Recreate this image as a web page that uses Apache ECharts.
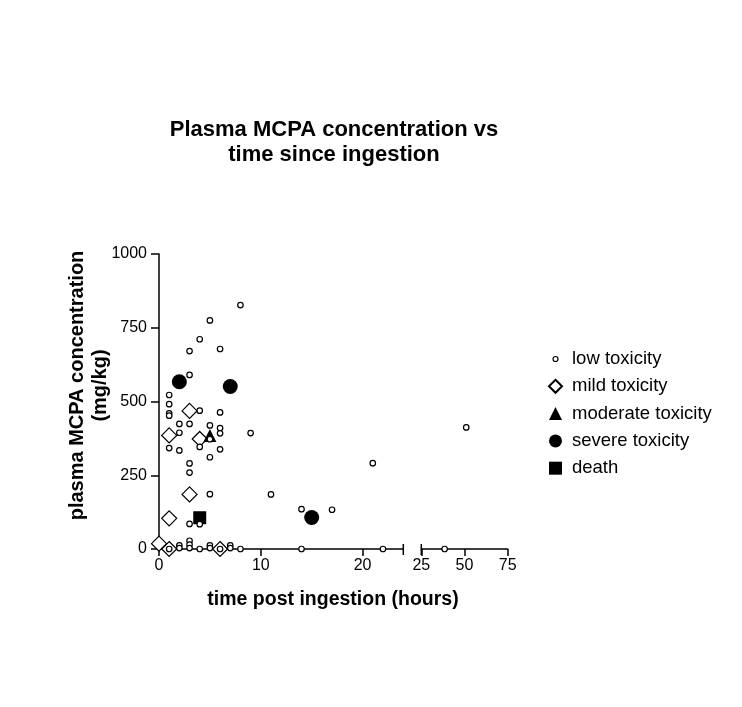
<!DOCTYPE html>
<html>
<head>
<meta charset="utf-8">
<script src="https://cdn.jsdelivr.net/npm/echarts@6/dist/echarts.min.js"></script>
<style>html,body{margin:0;padding:0;background:#fff}#c{width:742px;height:707px}</style>
</head>
<body>
<div id="c"></div>
<script>
// ---- data (hours, mg/kg) ----
var lowEarly = [
  [8,827],[5,775],[4,711],[3,671],[6,678],[3,590],[1,522],[1,491],[1,460],[1,452],
  [4,469],[6,463],[2,424],[3,424],[5,419],[6,410],[2,394],[6,392],[5,372],[9,393],
  [1,342],[4,346],[2,334],[6,338],[5,311],[3,290],[3,259],[5,186],[11,185],[4,84],
  [3,85],[14,135],[17,133],[21,291],
  [1,0],[2,12],[2,3],[3,28],[3,15],[3,3],[4,0],[5,12],[5,3],[6,0],[7,12],[7,3],
  [8,0],[14,0],[22,0]
];
var lowLate = [[51,412],[38.5,0]];
var mild = [[3,468],[1,385],[4,373],[3,185],[1,104],[0,18],[1,0],[6,0]];
var moderate = [[5,385]];
var severe = [[2,567],[7,551],[15,107]];
var death = [[4,106]];

var yTicks = [0,250,500,750,1000];
var xTicksEarly = [0,10,20];
var xTicksLate = [25,50,75];

var FONT = 'Liberation Sans, Arial, sans-serif';
var chart = echarts.init(document.getElementById('c'));

var lowIcon = 'image://data:image/svg+xml;utf8,' + encodeURIComponent(
  "<svg xmlns='http://www.w3.org/2000/svg' width='12' height='12'><circle cx='6' cy='6' r='2.3' fill='white' stroke='black' stroke-width='1.1'/></svg>");

var axisLine = {show:true, lineStyle:{color:'#000', width:1.5}};
var plain = function (v) { return String(v); };

function sc(name, data, xi, symbol, size, hollow, z) {
  return {
    name: name, type: 'scatter', xAxisIndex: xi, yAxisIndex: xi, data: data,
    symbol: symbol, symbolSize: size, silent: true, z: z,
    itemStyle: hollow ? {color:'#fff', borderColor:'#000', borderWidth:1.2, opacity:1}
                      : {color:'#000', borderWidth:0, opacity:1}
  };
}

var option = {
  animation: false,
  title: [
    {text: 'Plasma MCPA concentration vs\ntime since ingestion', left: 329, top: 112, textAlign: 'center',
     textStyle: {fontFamily: FONT, fontSize: 22, fontWeight: 'bold', color: '#000', lineHeight: 25}},
    {text: 'time post ingestion (hours)', left: 328, top: 585, textAlign: 'center',
     textStyle: {fontFamily: FONT, fontSize: 19.5, fontWeight: 'bold', color: '#000'}}
  ],
  grid: [
    {left: 159, top: 254, width: 244.3, height: 295},
    {left: 421.3, top: 254, width: 86.4, height: 295}
  ],
  xAxis: [
    {gridIndex: 0, type: 'value', min: 0, max: 24, interval: 10, splitLine: {show:false},
     axisLine: axisLine, axisTick: {show:true, length: 7, customValues: xTicksEarly, lineStyle:{width:1.5, color:'#000'}},
     axisLabel: {customValues: xTicksEarly, formatter: plain, fontFamily: FONT, fontSize: 16, color: '#000', margin: 9}},
    {gridIndex: 1, type: 'value', min: 25, max: 75, interval: 25, splitLine: {show:false},
     axisLine: axisLine, axisTick: {show:true, length: 7, customValues: xTicksLate, lineStyle:{width:1.5, color:'#000'}},
     axisLabel: {customValues: xTicksLate, formatter: plain, fontFamily: FONT, fontSize: 16, color: '#000', margin: 9}}
  ],
  yAxis: [
    {gridIndex: 0, type: 'value', min: 0, max: 1000, interval: 250, splitLine: {show:false},
     axisLine: axisLine, axisTick: {show:true, length: 8, customValues: yTicks, lineStyle:{width:1.5, color:'#000'}},
     axisLabel: {customValues: yTicks, formatter: plain, fontFamily: FONT, fontSize: 16, color: '#000', margin: 12}},
    {gridIndex: 1, type: 'value', min: 0, max: 1000, show: false}
  ],
  legend: {
    orient: 'vertical', left: 543, top: 344.5, itemWidth: 13, itemHeight: 13, itemGap: 8.3,
    selectedMode: false,
    textStyle: {fontFamily: FONT, fontSize: 18.5, color: '#000', padding: [0,0,0,5]},
    data: [
      {name: 'low toxicity', icon: lowIcon},
      {name: 'mild toxicity', icon: 'diamond'},
      {name: 'moderate toxicity', icon: 'triangle'},
      {name: 'severe toxicity', icon: 'circle'},
      {name: 'death', icon: 'rect'}
    ]
  },
  series: [
    sc('mild toxicity', mild, 0, 'diamond', 15, true, 2),
    sc('moderate toxicity', moderate, 0, 'triangle', 13, false, 3),
    sc('severe toxicity', severe, 0, 'circle', 15, false, 3),
    sc('death', death, 0, 'rect', 13, false, 3),
    sc('low toxicity', lowEarly, 0, 'circle', 5.5, true, 5),
    sc('low toxicity', lowLate, 1, 'circle', 5.5, true, 5)
  ]
};
chart.setOption(option);

// axis break bars and rotated y-axis title
var pEnd = chart.convertToPixel({xAxisIndex: 0, yAxisIndex: 0}, [24, 0]);
var pStart = chart.convertToPixel({xAxisIndex: 1, yAxisIndex: 1}, [25, 0]);
var pMid = chart.convertToPixel({xAxisIndex: 0, yAxisIndex: 0}, [0, 500]);
chart.setOption({
  graphic: [
    {type: 'line', shape: {x1: pEnd[0], y1: pEnd[1]-5, x2: pEnd[0], y2: pEnd[1]+6}, style: {stroke:'#000', lineWidth:1.5}},
    {type: 'line', shape: {x1: pStart[0], y1: pStart[1]-5, x2: pStart[0], y2: pStart[1]+6}, style: {stroke:'#000', lineWidth:1.5}},
    {type: 'text', x: 89, y: pMid[1] - 16, rotation: Math.PI/2,
     style: {text: 'plasma MCPA concentration\n(mg/kg)', fontFamily: FONT, fontSize: 20, fontWeight: 'bold',
             fill: '#000', align: 'center', verticalAlign: 'middle', lineHeight: 23}}
  ]
});
</script>
</body>
</html>
